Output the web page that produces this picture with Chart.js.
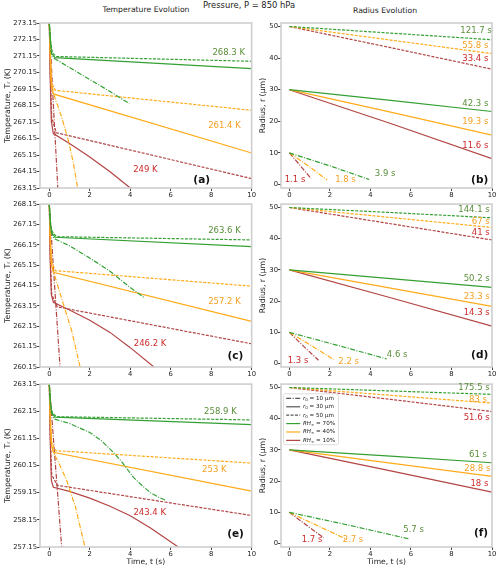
<!DOCTYPE html>
<html>
<head>
<meta charset="utf-8">
<script src="https://cdn.jsdelivr.net/npm/chart.js@4.4.1/dist/chart.umd.min.js"></script>
<style>
  html, body { margin: 0; padding: 0; background: #fff; }
  #wrap { position: relative; width: 500px; height: 568px; overflow: hidden; font-family: 'DejaVu Sans', sans-serif; }
  canvas { position: absolute; }
  .ttl { position: absolute; transform: translate(-50%, -50%); white-space: nowrap; color: #222; line-height: 1; }
</style>
</head>
<body>
<div id="wrap">
  <div class="ttl" style="left:146px; top:10px; font-size:7.7px;">Temperature Evolution</div>
  <div class="ttl" style="left:249px; top:5px; font-size:8.4px;">Pressure, P = 850 hPa</div>
  <div class="ttl" style="left:385px; top:10.5px; font-size:7.7px;">Radius Evolution</div>
  <canvas id="pa" width="256" height="200" style="left:0;top:0"></canvas>
  <canvas id="pb" width="244" height="200" style="left:256px;top:0"></canvas>
  <canvas id="pc" width="256" height="180" style="left:0;top:200px"></canvas>
  <canvas id="pd" width="244" height="180" style="left:256px;top:200px"></canvas>
  <canvas id="pe" width="256" height="188" style="left:0;top:380px"></canvas>
  <canvas id="pf" width="244" height="188" style="left:256px;top:380px"></canvas>
</div>
<script>
// ticks
const timeTicks = [0, 2, 4, 6, 8, 10];
const tempTicksA = [263.15, 264.15, 265.15, 266.15, 267.15, 268.15, 269.15, 270.15, 271.15, 272.15, 273.15];
const tempTicksC = [260.15, 261.15, 262.15, 263.15, 264.15, 265.15, 266.15, 267.15, 268.15];
const tempTicksE = [257.15, 258.15, 259.15, 260.15, 261.15, 262.15, 263.15];
const radiusTicks = [0, 10, 20, 30, 40, 50];

// (a) temperature, T0 = 273.15 K  -- [t (s), T (K)]
const aG10 = [[0, 273.15], [0.05, 272.0], [0.1, 271.3], [0.25, 271.0], [2, 269.72], [3, 269.0], [3.95, 268.27]];
const aG30 = [[0, 273.15], [0.06, 272.0], [0.12, 271.3], [0.28, 271.05], [10, 270.39]];
const aG50 = [[0, 273.15], [0.07, 272.0], [0.15, 271.35], [0.35, 271.12], [10, 270.83]];
const aO10 = [[0, 273.15], [0.05, 271.0], [0.1, 269.6], [0.2, 268.9], [0.61, 267.45], [0.94, 266.05], [1.19, 264.65], [1.4, 263.15], [1.8, 261.4]];
const aO30 = [[0, 273.15], [0.05, 271.0], [0.1, 269.3], [0.2, 268.85], [10, 265.27]];
const aO50 = [[0, 273.15], [0.06, 271.0], [0.12, 269.5], [0.3, 269.07], [10, 267.86]];
const aR10 = [[0, 273.15], [0.2, 268.2], [0.42, 263.15], [1.1, 249.0]];
const aR30 = [[0, 273.15], [0.04, 270.0], [0.1, 267.2], [0.2, 266.45], [1, 265.85], [2, 265.03], [3, 264.13], [4, 263.15], [5, 262.09]];
const aR50 = [[0, 273.15], [0.05, 270.0], [0.12, 267.4], [0.35, 266.5], [10, 263.72]];

// (c) temperature, T0 = 268.15 K
const cG10 = [[0, 268.15], [0.05, 267.1], [0.1, 266.75], [0.25, 266.45], [1, 266.1], [2, 265.5], [3, 264.85], [4, 264.05], [4.7, 263.55]];
const cG30 = [[0, 268.15], [0.06, 267.1], [0.12, 266.75], [0.28, 266.52], [10, 266.06]];
const cG50 = [[0, 268.15], [0.07, 267.1], [0.15, 266.8], [0.35, 266.55], [10, 266.39]];
const cO10 = [[0, 268.15], [0.05, 266.3], [0.1, 265.3], [0.2, 264.85], [0.69, 263.25], [1.1, 261.95], [1.52, 260.15], [2.2, 257.2]];
const cO30 = [[0, 268.15], [0.05, 266.3], [0.1, 265.2], [0.2, 264.8], [10, 262.39]];
const cO50 = [[0, 268.15], [0.06, 266.3], [0.12, 265.3], [0.3, 264.88], [10, 264.12]];
const cR10 = [[0, 268.15], [0.25, 264.3], [0.53, 260.15], [1.3, 246.2]];
const cR30 = [[0, 268.15], [0.04, 265.5], [0.1, 263.7], [0.2, 263.33], [1, 262.95], [2, 262.45], [3, 261.85], [4, 261.1], [5.17, 260.15], [6, 259.4]];
const cR50 = [[0, 268.15], [0.05, 265.5], [0.12, 263.7], [0.4, 263.1], [10, 261.29]];

// (e) temperature, T0 = 263.15 K
const eG10 = [[0, 263.15], [0.05, 262.4], [0.1, 262.1], [0.25, 261.86], [1, 261.7], [2, 261.37], [2.6, 261.05], [3.16, 260.64], [3.6, 260.27],
  [4.15, 259.72], [4.6, 259.4], [5, 259.15], [5.4, 258.98], [5.75, 258.87]];
const eG30 = [[0, 263.15], [0.06, 262.4], [0.12, 262.1], [0.28, 261.93], [10, 261.66]];
const eG50 = [[0, 263.15], [0.07, 262.4], [0.15, 262.1], [0.35, 261.95], [10, 261.83]];
const eO10 = [[0, 263.15], [0.05, 261.8], [0.1, 261.0], [0.2, 260.64], [0.5, 260.2], [0.86, 259.6], [1.3, 258.6], [1.76, 257.15], [2.7, 253.0]];
const eO30 = [[0, 263.15], [0.05, 261.8], [0.1, 260.95], [0.2, 260.64], [10, 259.21]];
const eO50 = [[0, 263.15], [0.06, 261.8], [0.12, 261.0], [0.3, 260.7], [10, 260.24]];
const eR10 = [[0, 263.15], [0.3, 260.2], [0.61, 257.15], [1.7, 243.4]];
const eR30 = [[0, 263.15], [0.04, 261.2], [0.1, 259.6], [0.2, 259.35], [1, 259.2], [2, 258.95], [3, 258.65], [4, 258.3], [5, 257.85], [6.37, 257.15], [7, 256.75]];
const eR50 = [[0, 263.15], [0.05, 261.2], [0.12, 259.8], [0.4, 259.42], [10, 258.31]];

// (b) radius, um  -- [t (s), r (um)]
const bG10 = [[0, 10], [2, 5.9], [3.94, 1.6]];
const bG30 = [[0, 30], [5, 26.6], [10, 23.1]];
const bG50 = [[0, 50], [5, 47.9], [10, 45.8]];
const bO10 = [[0, 10], [1, 5.6], [1.87, 1.4]];
const bO30 = [[0, 30], [5, 22.9], [10, 15.6]];
const bO50 = [[0, 50], [5, 45.7], [10, 41.4]];
const bR10 = [[0, 10], [0.5, 6.3], [1.07, 1.9]];
const bR30 = [[0, 30], [5, 19.3], [10, 8.2]];
const bR50 = [[0, 50], [5, 43.3], [10, 36.5]];

// (d) radius
const dG10 = [[0, 10], [2.4, 5.8], [4.8, 1.5]];
const dG30 = [[0, 30], [5, 27.2], [10, 24.4]];
const dG50 = [[0, 50], [5, 48.4], [10, 46.7]];
const dO10 = [[0, 10], [1.1, 5.7], [2.19, 1.3]];
const dO30 = [[0, 30], [5, 24.2], [10, 18.3]];
const dO50 = [[0, 50], [5, 46.8], [10, 43.6]];
const dR10 = [[0, 10], [0.7, 5.6], [1.44, 1.05]];
const dR30 = [[0, 30], [5, 21.1], [10, 12.0]];
const dR50 = [[0, 50], [5, 44.8], [10, 39.6]];

// (f) radius
const fG10 = [[0, 10], [3, 5.8], [5.9, 1.5]];
const fG30 = [[0, 30], [5, 28.0], [10, 25.9]];
const fG50 = [[0, 50], [5, 48.9], [10, 47.8]];
const fO10 = [[0, 10], [1.4, 5.7], [2.85, 1.3]];
const fO30 = [[0, 30], [5, 25.8], [10, 21.5]];
const fO50 = [[0, 50], [5, 47.5], [10, 45.0]];
const fR10 = [[0, 10], [0.85, 5.9], [1.7, 1.8]];
const fR30 = [[0, 30], [5, 23.3], [10, 16.5]];
const fR50 = [[0, 50], [5, 46.2], [10, 42.3]];

// annotations: [text, t, value, RH group, align]
const aNotes = [['268.3 K', 9.67, 271.34, 70, 'right'], ['261.4 K', 9.46, 266.93, 40, 'right'], ['249 K', 4.75, 264.25, 10, 'center']];
const cNotes = [['263.6 K', 9.46, 266.84, 70, 'right'], ['257.2 K', 9.46, 263.37, 40, 'right'], ['246.2 K', 4.98, 261.29, 10, 'center']];
const eNotes = [['258.9 K', 9.26, 262.14, 70, 'right'], ['253 K', 8.76, 260.0, 40, 'right'], ['243.4 K', 4.96, 258.41, 10, 'center']];
const bNotes = [['121.7 s', 9.99, 48.6, 70, 'right'], ['55.8 s', 9.82, 44.0, 40, 'right'], ['33.4 s', 9.82, 39.7, 10, 'right'],
  ['42.3 s', 9.82, 25.6, 70, 'right'], ['19.3 s', 9.82, 20.0, 40, 'right'], ['11.6 s', 9.82, 12.3, 10, 'right'],
  ['3.9 s', 4.73, 3.25, 70, 'center'], ['1.8 s', 2.77, 1.36, 40, 'center'], ['1.1 s', 0.28, 1.36, 10, 'center']];
const dNotes = [['144.1 s', 9.89, 49.2, 70, 'right'], ['67 s', 9.89, 45.3, 40, 'right'], ['41 s', 9.89, 41.8, 10, 'right'],
  ['50.2 s', 9.89, 27.1, 70, 'right'], ['23.3 s', 9.89, 21.3, 40, 'right'], ['14.3 s', 9.89, 16.2, 10, 'right'],
  ['4.6 s', 5.32, 2.85, 70, 'center'], ['2.2 s', 2.93, 0.7, 40, 'center'], ['1.3 s', 0.43, 1.0, 10, 'center']];
const fNotes = [['175.5 s', 9.89, 49.9, 70, 'right'], ['83 s', 9.75, 46.2, 40, 'right'], ['51.6 s', 9.89, 40.4, 10, 'right'],
  ['61 s', 9.75, 28.6, 70, 'right'], ['28.8 s', 9.92, 23.8, 40, 'right'], ['18 s', 9.82, 19.2, 10, 'right'],
  ['5.7 s', 6.13, 4.4, 70, 'center'], ['2.7 s', 3.14, 1.25, 40, 'center'], ['1.7 s', 1.12, 1.25, 10, 'center']];

const r0Labels = ['10', '30', '50'];
const rhLabels = ['70%', '40%', '10%'];

// styles
const FONT = "'DejaVu Sans', sans-serif";
const lineColors = { 70: '#34a034', 40: '#ffab1a', 10: '#b34444' };
const textColors = { 70: '#5a8f3a', 40: '#f5a024', 10: '#cc2a2a' };
const dashes = { 10: [5, 1.5, 1, 1.5], 30: [], 50: [3, 1.4] };

function seriesOf(p, set) {
  return [
    [set[p + 'G10'], 70, 10], [set[p + 'G30'], 70, 30], [set[p + 'G50'], 70, 50],
    [set[p + 'O10'], 40, 10], [set[p + 'O30'], 40, 30], [set[p + 'O50'], 40, 50],
    [set[p + 'R10'], 10, 10], [set[p + 'R30'], 10, 30], [set[p + 'R50'], 10, 50]
  ];
}

const all = { aG10, aG30, aG50, aO10, aO30, aO50, aR10, aR30, aR50,
  bG10, bG30, bG50, bO10, bO30, bO50, bR10, bR30, bR50,
  cG10, cG30, cG50, cO10, cO30, cO50, cR10, cR30, cR50,
  dG10, dG30, dG50, dO10, dO30, dO50, dR10, dR30, dR50,
  eG10, eG30, eG50, eO10, eO30, eO50, eR10, eR30, eR50,
  fG10, fG30, fG50, fO10, fO30, fO50, fR10, fR30, fR50 };

const framePlugin = {
  id: 'frame',
  afterDatasetsDraw(chart) {
    const { ctx, chartArea: a } = chart;
    ctx.save();
    ctx.strokeStyle = '#cfcfcf';
    ctx.lineWidth = 1.6;
    ctx.strokeRect(a.left, a.top, a.right - a.left, a.bottom - a.top);
    ctx.restore();
  }
};

function notesPlugin(notes, tag) {
  return {
    id: 'notes',
    afterDatasetsDraw(chart) {
      const { ctx, scales: { x, y } } = chart;
      ctx.save();
      ctx.textBaseline = 'middle';
      ctx.font = '8.5px ' + FONT;
      notes.forEach(([txt, t, v, rh, align]) => {
        ctx.fillStyle = textColors[rh];
        ctx.textAlign = align;
        ctx.fillText(txt, x.getPixelForValue(t), y.getPixelForValue(v));
      });
      ctx.font = 'bold 10.5px ' + FONT;
      ctx.fillStyle = '#111';
      ctx.textAlign = 'center';
      ctx.fillText(tag[0], x.getPixelForValue(tag[1]), y.getPixelForValue(tag[2]));
      ctx.restore();
    }
  };
}

const legendPlugin = {
  id: 'boxLegend',
  afterDatasetsDraw(chart) {
    const { ctx, chartArea: a } = chart;
    const bx = a.left + 2.5, by = a.top + 9.7, bw = 55, bh = 51;
    ctx.save();
    ctx.fillStyle = 'rgba(255,255,255,0.85)';
    ctx.strokeStyle = '#d6d6d6';
    ctx.lineWidth = 0.8;
    ctx.beginPath();
    ctx.roundRect(bx, by, bw, bh, 2);
    ctx.fill();
    ctx.stroke();
    const rows = [];
    r0Labels.forEach((v, i) => rows.push({ color: '#555', dash: dashes[[10, 30, 50][i]], parts: [['r', 'i'], ['0', 's'], [' = ' + v + ' \u03bcm', 'n']] }));
    rhLabels.forEach((v, i) => rows.push({ color: lineColors[[70, 40, 10][i]], dash: [], parts: [['RH', 'i'], ['\u221e', 's'], [' = ' + v, 'n']] }));
    ctx.textBaseline = 'middle';
    ctx.textAlign = 'left';
    rows.forEach((row, i) => {
      const cy = by + 4.6 + 8.4 * i;
      ctx.strokeStyle = row.color;
      ctx.lineWidth = 1.2;
      ctx.setLineDash(row.dash);
      ctx.beginPath();
      ctx.moveTo(bx + 2.7, cy);
      ctx.lineTo(bx + 16.7, cy);
      ctx.stroke();
      ctx.setLineDash([]);
      let tx = bx + 19.4;
      ctx.fillStyle = '#222';
      row.parts.forEach(([s, kind]) => {
        if (kind === 'i') ctx.font = 'italic 5.6px ' + FONT;
        else if (kind === 's') ctx.font = '4px ' + FONT;
        else ctx.font = '5.6px ' + FONT;
        ctx.fillText(s, tx, kind === 's' ? cy + 1.3 : cy);
        tx += ctx.measureText(s).width;
      });
    });
    ctx.restore();
  }
};

function buildPanel(id, p, cfg) {
  const plugins = [framePlugin, notesPlugin(cfg.notes, cfg.tag)];
  if (cfg.legend) plugins.push(legendPlugin);
  return new Chart(document.getElementById(id), {
    type: 'scatter',
    data: {
      datasets: seriesOf(p, all).map(([pts, rh, r0]) => ({
        data: pts.map(([x, y]) => ({ x, y })),
        showLine: true,
        borderColor: lineColors[rh],
        borderWidth: 1.2,
        borderDash: dashes[r0],
        pointRadius: 0,
        fill: false
      }))
    },
    options: {
      responsive: false,
      animation: false,
      devicePixelRatio: 1,
      layout: { padding: { top: cfg.padTop, right: cfg.padRight, left: 0, bottom: 0 } },
      plugins: { legend: { display: false }, tooltip: { enabled: false } },
      scales: {
        x: {
          type: 'linear',
          min: cfg.xMin,
          max: 10,
          afterBuildTicks: s => { s.ticks = timeTicks.map(v => ({ value: v })); },
          afterFit: s => { s.height = cfg.xH; },
          ticks: { autoSkip: false, maxRotation: 0, padding: 0, color: '#222', font: { family: FONT, size: 6.8 } },
          grid: { drawOnChartArea: false, drawTicks: true, tickLength: 3, color: '#444', lineWidth: 1 },
          border: { display: false },
          title: { display: cfg.xTitle, text: 'Time, t (s)', color: '#222', font: { family: FONT, size: 7.6 }, padding: { top: 0, bottom: 1.5 } }
        },
        y: {
          type: 'linear',
          min: cfg.yMin,
          max: cfg.yMax,
          afterBuildTicks: s => { s.ticks = cfg.yTicks.map(v => ({ value: v })); },
          afterFit: s => { s.width = cfg.yW; },
          ticks: { autoSkip: false, padding: 0, color: '#222', font: { family: FONT, size: 6.8 }, callback: cfg.fmt },
          grid: { drawOnChartArea: false, drawTicks: true, tickLength: 3, color: '#444', lineWidth: 1 },
          border: { display: false },
          title: { display: true, text: cfg.yTitle, color: '#222', font: { family: FONT, size: 7.8 }, padding: { top: cfg.yTitlePad, bottom: 0 } }
        }
      }
    },
    plugins
  });
}

const tempFmt = v => v.toFixed(2);
const radFmt = v => String(v);
const left = { xMin: -0.46, padRight: 4, yW: 40, yTitle: 'Temperature, T\u1d63 (K)', yTitlePad: 3.3, fmt: tempFmt };
const right = { xMin: -0.41, padRight: 8, yW: 25, yTitle: 'Radius, r (\u03bcm)', yTitlePad: 2.6, fmt: radFmt, yMin: -1.1, yMax: 51.1, yTicks: radiusTicks };

buildPanel('pa', 'a', { ...left, padTop: 23, xH: 12, xTitle: false, yMin: 263.15, yMax: 273.15, yTicks: tempTicksA, notes: aNotes, tag: ['(a)', 7.53, 263.62] });
buildPanel('pb', 'b', { ...right, padTop: 23, xH: 12, xTitle: false, notes: bNotes, tag: ['(b)', 9.39, 1.36] });
buildPanel('pc', 'c', { ...left, padTop: 3, xH: 13, xTitle: false, yMin: 260.15, yMax: 268.15, yTicks: tempTicksC, notes: cNotes, tag: ['(c)', 9.2, 260.69] });
buildPanel('pd', 'd', { ...right, padTop: 3, xH: 13, xTitle: false, notes: dNotes, tag: ['(d)', 9.39, 2.6] });
buildPanel('pe', 'e', { ...left, padTop: 3, xH: 21, xTitle: true, yMin: 257.15, yMax: 263.15, yTicks: tempTicksE, notes: eNotes, tag: ['(e)', 9.2, 257.61] });
buildPanel('pf', 'f', { ...right, padTop: 3, xH: 21, xTitle: true, notes: fNotes, tag: ['(f)', 9.46, 3.2], legend: true });
</script>
</body>
</html>
